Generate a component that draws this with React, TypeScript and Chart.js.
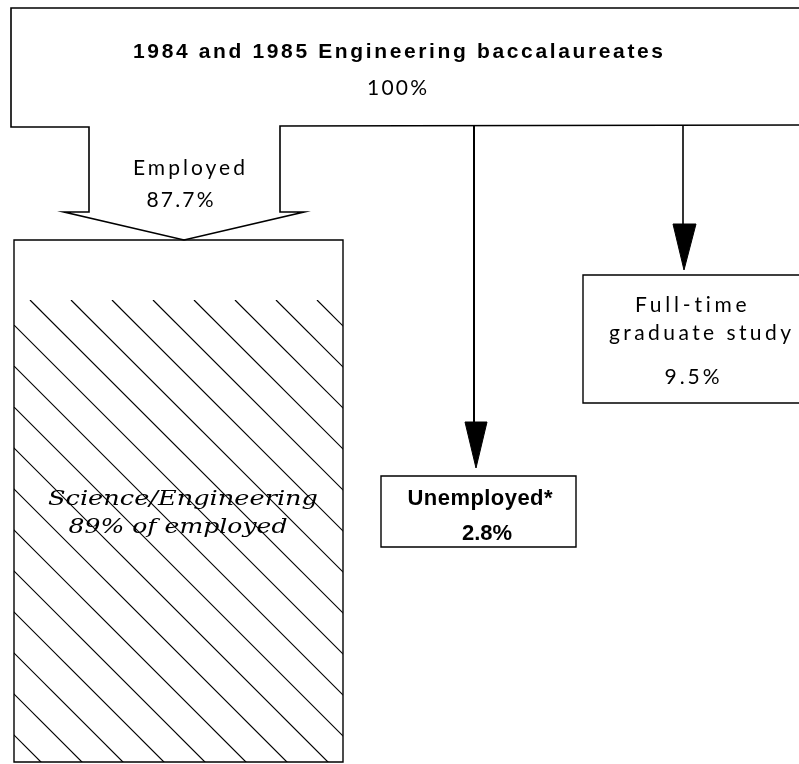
import { useEffect, useRef } from "react";
import { Chart, registerables } from "chart.js";

Chart.register(...registerables);

// ---- data ----
const title = "1984 and 1985 Engineering baccalaureates";
const totalShare = 100;
const categories = ["Employed", "Unemployed*", "Full-time graduate study"];
const shares = [87.7, 2.8, 9.5];
const employedSubLabel = "Science/Engineering";
const scienceShareOfEmployed = 89;

const W = 799;
const H = 764;

function fitText(
  ctx: CanvasRenderingContext2D,
  text: string,
  cx: number,
  cy: number,
  target: number,
  font: string,
  mode: "space" | "scale" = "space"
) {
  ctx.save();
  ctx.font = font;
  ctx.fillStyle = "#000";
  ctx.textBaseline = "middle";
  ctx.textAlign = "left";
  const a = ctx as any;
  const hasLS = "letterSpacing" in a;
  if (hasLS) a.letterSpacing = "0px";
  const w0 = ctx.measureText(text).width;
  const n = Array.from(text).length;
  if (mode === "space" && hasLS && n > 1) {
    const ls = (target - w0) / (n - 1);
    a.letterSpacing = ls + "px";
    ctx.fillText(text, cx - target / 2, cy);
  } else {
    ctx.translate(cx - target / 2, cy);
    ctx.scale(target / w0, 1);
    ctx.fillText(text, 0, 0);
  }
  ctx.restore();
}

const pct = (v: number) => `${v}%`;

const diagramPlugin = {
  id: "flowDiagram",
  afterDraw(chart: any) {
    const ctx: CanvasRenderingContext2D = chart.ctx;
    const xs = chart.scales.x;
    const ys = chart.scales.y;
    const X = (v: number) => xs.getPixelForValue(v);
    const Y = (v: number) => ys.getPixelForValue(v);

    const path = (pts: number[][], close: boolean, lw: number, fill = false) => {
      ctx.save();
      ctx.beginPath();
      pts.forEach(([x, y], i) => (i ? ctx.lineTo(X(x), Y(y)) : ctx.moveTo(X(x), Y(y))));
      if (close) ctx.closePath();
      ctx.lineWidth = lw;
      ctx.strokeStyle = "#000";
      ctx.lineJoin = "miter";
      if (fill) {
        ctx.fillStyle = "#000";
        ctx.fill();
      }
      ctx.stroke();
      ctx.restore();
    };

    // outer "100%" block with the employed arrow
    path(
      [
        [799, 8], [11, 8], [11, 127], [89, 127], [89, 212], [64, 212],
        [184, 240], [304, 212], [280, 212], [280, 126], [799, 125],
      ],
      false,
      1.6
    );

    // science / engineering box
    const bx0 = 14, by0 = 240, bx1 = 343, by1 = 762;
    path([[bx0, by0], [bx1, by0], [bx1, by1], [bx0, by1]], true, 1.4);

    // hatch
    ctx.save();
    ctx.beginPath();
    ctx.rect(X(bx0), Y(300), X(bx1) - X(bx0), Y(by1) - Y(300));
    ctx.clip();
    ctx.strokeStyle = "#000";
    ctx.lineWidth = 1.2;
    for (let k = -16; k <= 10; k++) {
      const c = -270 + 41 * k;
      ctx.beginPath();
      ctx.moveTo(X(300 + c), Y(300));
      ctx.lineTo(X(800 + c), Y(800));
      ctx.stroke();
    }
    ctx.restore();

    // unemployed arrow + box
    path([[474, 125], [474, 424]], false, 2);
    path([[465, 422], [487, 422], [476, 468]], true, 1, true);
    path([[381, 476], [576, 476], [576, 547], [381, 547]], true, 1.4);

    // graduate study arrow + box
    path([[683, 125], [683, 226]], false, 1.6);
    path([[673, 224], [696, 224], [684, 270]], true, 1, true);
    path([[812, 275], [583, 275], [583, 403], [812, 403]], false, 1.4);

    // texts
    const titleFont = "bold 21px 'Liberation Sans', Arial, sans-serif";
    const boldSans = "bold 22px 'Liberation Sans', Arial, sans-serif";
    const plotter = "400 21px Lato, 'DejaVu Sans', sans-serif";
    const serifIt = "italic 21px 'DejaVu Serif', 'Liberation Serif', serif";

    fitText(ctx, title, X(398), Y(52), 530, titleFont);
    fitText(ctx, pct(totalShare), X(397), Y(88), 60, plotter);

    fitText(ctx, categories[0], X(189), Y(168), 112, plotter);
    fitText(ctx, pct(shares[0]), X(180), Y(200), 67, plotter);

    fitText(ctx, employedSubLabel, X(183), Y(500), 270, serifIt, "scale");
    fitText(ctx, `${scienceShareOfEmployed}% of employed`, X(178), Y(528), 219, serifIt, "scale");

    fitText(ctx, categories[1], X(480), Y(499), 145, boldSans);
    fitText(ctx, pct(shares[1]), X(487), Y(534), 50, boldSans);

    const grad = categories[2].split(" ");
    fitText(ctx, grad[0], X(691), Y(305), 112, plotter);
    fitText(ctx, grad.slice(1).join(" "), X(700), Y(333), 182, plotter);
    fitText(ctx, pct(shares[2]), X(692), Y(377), 55, plotter);
  },
};

export default function App() {
  const ref = useRef<HTMLCanvasElement | null>(null);
  useEffect(() => {
    if (!ref.current) return;
    const chart = new Chart(ref.current, {
      type: "scatter",
      data: { datasets: [] },
      options: {
        responsive: false,
        animation: false,
        layout: { padding: 0 },
        scales: {
          x: { type: "linear", min: 0, max: W, display: false },
          y: { type: "linear", min: 0, max: H, reverse: true, display: false },
        },
        plugins: { legend: { display: false }, tooltip: { enabled: false } },
      },
      plugins: [diagramPlugin],
    } as any);
    return () => chart.destroy();
  }, []);
  return (
    <div style={{ position: "fixed", left: 0, top: 0, width: W, height: H, background: "#fff" }}>
      <canvas ref={ref} width={W} height={H} style={{ display: "block" }} />
    </div>
  );
}
